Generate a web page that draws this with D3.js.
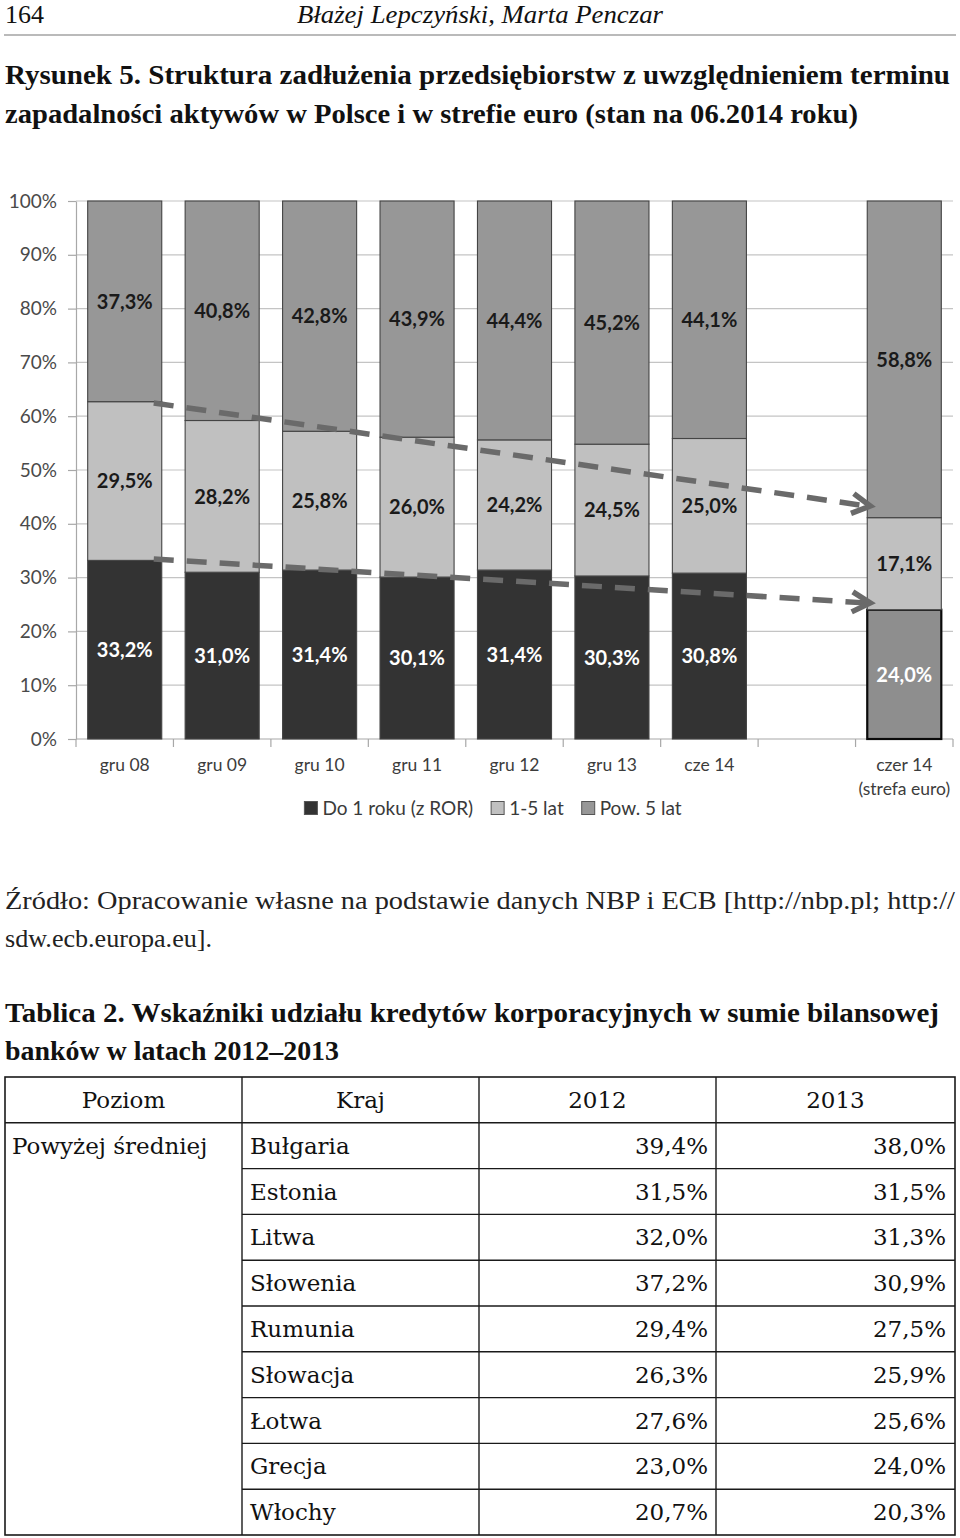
<!DOCTYPE html>
<html><head><meta charset="utf-8">
<script src="https://cdn.jsdelivr.net/npm/d3@7"></script>
<style>body{margin:0;background:#fff}svg{display:block}
.pserif{font-family:"Liberation Serif","Tinos","Times New Roman",serif}
.tserif{font-family:"DejaVu Serif",serif}
.sans{font-family:"Lato","Open Sans",sans-serif}
</style>
</head><body>
<svg id="page" width="960" height="1538"></svg>
<script>
// ---------- DATA ----------
const barCategories = ["gru 08","gru 09","gru 10","gru 11","gru 12","gru 13","cze 14","czer 14"];
const axisSlots = ["gru 08","gru 09","gru 10","gru 11","gru 12","gru 13","cze 14","_gap","czer 14"];
const categoryLabels = {"gru 08":["gru 08"],"gru 09":["gru 09"],"gru 10":["gru 10"],"gru 11":["gru 11"],"gru 12":["gru 12"],"gru 13":["gru 13"],"cze 14":["cze 14"],"czer 14":["czer 14","(strefa euro)"]};
const shortTerm = [33.2,31.0,31.4,30.1,31.4,30.3,30.8,24.0];   // Do 1 roku (z ROR)
const midTerm   = [29.5,28.2,25.8,26.0,24.2,24.5,25.0,17.1];   // 1-5 lat
const longTerm  = [37.3,40.8,42.8,43.9,44.4,45.2,44.1,58.8];   // Pow. 5 lat
const seriesNames = ["Do 1 roku (z ROR)","1-5 lat","Pow. 5 lat"];
const yTicks = [0,0.1,0.2,0.3,0.4,0.5,0.6,0.7,0.8,0.9,1.0];
const trendArrows = [
  {from:"gru 08", fromValue:0.6245, to:"czer 14", toValue:0.433},
  {from:"gru 08", fromValue:0.3346, to:"czer 14", toValue:0.2528}
];

const pageNumber = "164";
const runningHead = "Błażej Lepczyński, Marta Penczar";
const figureTitle = ["Rysunek 5. Struktura zadłużenia przedsiębiorstw z uwzględnieniem terminu",
                     "zapadalności aktywów w Polsce i w strefie euro (stan na 06.2014 roku)"];
const sourceNote = ["Źródło: Opracowanie własne na podstawie danych NBP i ECB [http://nbp.pl; http://",
                    "sdw.ecb.europa.eu]."];
const tableTitle = ["Tablica 2. Wskaźniki udziału kredytów korporacyjnych w sumie bilansowej",
                    "banków w latach 2012–2013"];

const tableColumns = ["Poziom","Kraj","2012","2013"];
const tableLevel = "Powyżej średniej";
const countries = ["Bułgaria","Estonia","Litwa","Słowenia","Rumunia","Słowacja","Łotwa","Grecja","Włochy"];
const share2012 = [39.4,31.5,32.0,37.2,29.4,26.3,27.6,23.0,20.7];
const share2013 = [38.0,31.5,31.3,30.9,27.5,25.9,25.6,24.0,20.3];

// ---------- PAGE ----------
const svg = d3.select("#page");
svg.append("rect").attr("width",960).attr("height",1538).attr("fill","#fff");
const comma = v => d3.format(".1f")(v).replace(".", ",");

function textLine(t, x, y, size, opts={}) {
  const el = svg.append("text").attr("x",x).attr("y",y)
    .attr("class","pserif").attr("font-size",size)
    .attr("fill",opts.fill||"#111").text(t);
  if (opts.weight) el.attr("font-weight",opts.weight);
  if (opts.style) el.attr("font-style",opts.style);
  if (opts.len) el.attr("textLength",opts.len).attr("lengthAdjust","spacingAndGlyphs");
  return el;
}

textLine(pageNumber, 5, 23, 25, {len:39});
textLine(runningHead, 297, 23, 25, {style:"italic", len:366});
svg.append("line").attr("x1",4).attr("x2",956).attr("y1",35).attr("y2",35)
  .attr("stroke","#777").attr("stroke-width",1.2);

textLine(figureTitle[0], 5, 84, 27, {weight:"bold", len:945});
textLine(figureTitle[1], 5, 123, 27, {weight:"bold", len:853});
textLine(sourceNote[0], 5, 909, 25, {len:950, fill:"#222"});
textLine(sourceNote[1], 5, 947, 25, {len:207, fill:"#222"});
textLine(tableTitle[0], 5, 1022, 27, {weight:"bold", len:934});
textLine(tableTitle[1], 5, 1060, 27, {weight:"bold", len:334});

// ---------- CHART ----------
const plotL = 76, plotR = 953, plotT = 201, plotB = 739;
const y = d3.scaleLinear().domain([0,1]).range([plotB, plotT]);
const x = d3.scaleBand().domain(axisSlots).range([plotL, plotR]).paddingInner(0.24).paddingOuter(0.12);
const step = x.step();
const chart = svg.append("g");

// gridlines
chart.append("g").selectAll("line").data(yTicks).join("line")
  .attr("x1",plotL).attr("x2",plotR).attr("y1",d=>y(d)).attr("y2",d=>y(d))
  .attr("stroke",d=>d===0?"#a8a8a8":"#c4c4c4").attr("stroke-width",1.2);

// y axis
const yAxis = chart.append("g").attr("transform",`translate(${plotL},0)`)
  .call(d3.axisLeft(y).tickValues(yTicks).tickFormat(d=>Math.round(d*100)+"%").tickSizeInner(8).tickSizeOuter(0).tickPadding(11));
yAxis.select(".domain").attr("stroke","#a8a8a8").attr("stroke-width",1.2);
yAxis.selectAll(".tick line").attr("stroke","#a8a8a8").attr("stroke-width",1.2);
yAxis.selectAll(".tick text").attr("font-family",null).attr("class","sans").attr("font-size",19).attr("fill","#4a4a4a");
yAxis.attr("font-family",null);

// x boundary ticks
const bounds = d3.range(axisSlots.length+1).map(i => plotL + i*step);
chart.append("g").selectAll("line").data(bounds).join("line")
  .attr("x1",d=>d).attr("x2",d=>d).attr("y1",plotB).attr("y2",plotB+8)
  .attr("stroke","#a8a8a8").attr("stroke-width",1.2);

// stacked bars
const rows = barCategories.map((c,i)=>({cat:c, s:shortTerm[i], m:midTerm[i], l:longTerm[i]}));
const keys = ["s","m","l"];
const stacked = d3.stack().keys(keys).offset(d3.stackOffsetExpand)(rows);
const fills = {s:"#333333", m:"#c0c0c0", l:"#979797"};
const euro = "czer 14";

const segs = [];
stacked.forEach(layer => layer.forEach(d => segs.push({key:layer.key, cat:d.data.cat, y0:d[0], y1:d[1], v:d.data[layer.key]})));

chart.append("g").selectAll("rect").data(segs).join("rect")
  .attr("x",d=>x(d.cat)).attr("width",x.bandwidth())
  .attr("y",d=>y(d.y1)).attr("height",d=>y(d.y0)-y(d.y1))
  .attr("fill",d=> (d.cat===euro && d.key==="s") ? "#8e8e8e" : fills[d.key])
  .attr("stroke",d=> (d.cat===euro && d.key==="s") ? "#0a0a0a" : "#444")
  .attr("stroke-width",d=> (d.cat===euro && d.key==="s") ? 2.2 : 1.1);

chart.append("g").selectAll("text").data(segs).join("text")
  .attr("x",d=>x(d.cat)+x.bandwidth()/2)
  .attr("y",d=>(y(d.y0)+y(d.y1))/2)
  .attr("dy","0.36em").attr("text-anchor","middle")
  .attr("class","sans").attr("font-weight","bold").attr("font-size",20)
  .attr("fill",d=> d.key==="s" ? "#fff" : "#1a1a1a")
  .text(d=>comma(d.v)+"%");

// category labels
const xl = chart.append("g");
axisSlots.filter(s=>categoryLabels[s]).forEach(s=>{
  categoryLabels[s].forEach((t,j)=>{
    xl.append("text").attr("x",x(s)+x.bandwidth()/2).attr("y",771+j*24)
      .attr("text-anchor","middle").attr("class","sans").attr("font-size",17.5)
      .attr("fill","#3c3c3c").text(t);
  });
});

// trend arrows
const arrowG = chart.append("g");
trendArrows.forEach(a=>{
  const x1 = x(a.from)+x.bandwidth()-8, y1 = y(a.fromValue);
  const x2 = x(a.to)+3, y2 = y(a.toValue);
  arrowG.append("line").attr("x1",x1).attr("y1",y1).attr("x2",x2-3).attr("y2",y2)
    .attr("stroke","#6a6a6a").attr("stroke-width",5.5).attr("stroke-dasharray","20,13");
  const dx=x2-x1, dy=y2-y1, L=Math.hypot(dx,dy), ux=dx/L, uy=dy/L, nx=-uy, ny=ux;
  const back=18, wing=10;
  const p = [[x2-back*ux+wing*nx, y2-back*uy+wing*ny],[x2,y2],[x2-back*ux-wing*nx, y2-back*uy-wing*ny]];
  arrowG.append("path").attr("d",d3.line()(p)).attr("fill","none")
    .attr("stroke","#6a6a6a").attr("stroke-width",5.5).attr("stroke-linejoin","miter");
});

// legend
const legend = chart.append("g");
const legendKeys = ["s","m","l"];
const items = legendKeys.map((k,i)=>{
  const g = legend.append("g");
  g.append("rect").attr("x",0).attr("y",-6.5).attr("width",13).attr("height",13)
    .attr("fill",fills[k]).attr("stroke","#555").attr("stroke-width",1);
  const t = g.append("text").attr("x",18).attr("y",0).attr("dy","0.36em")
    .attr("class","sans").attr("font-size",19).attr("fill","#3a3a3a").text(seriesNames[i]);
  const w = 18 + t.node().getComputedTextLength();
  return {g,w};
});
const gapL = 18;
const totalW = d3.sum(items,d=>d.w) + gapL*(items.length-1);
let lx = 493 - totalW/2;
items.forEach(it=>{ it.g.attr("transform",`translate(${lx},808)`); lx += it.w + gapL; });

// ---------- TABLE ----------
const colEdges = [5,242,479,716,955];
const tTop = 1077, rowH = 45.8, nRows = countries.length + 1;
const tBot = tTop + rowH*nRows;
const tg = svg.append("g");
const tstroke = "#1a1a1a";
tg.append("rect").attr("x",colEdges[0]).attr("y",tTop).attr("width",colEdges[4]-colEdges[0]).attr("height",tBot-tTop)
  .attr("fill","none").attr("stroke",tstroke).attr("stroke-width",1.6);
[1,2,3].forEach(i=>tg.append("line").attr("x1",colEdges[i]).attr("x2",colEdges[i]).attr("y1",tTop).attr("y2",tBot)
  .attr("stroke",tstroke).attr("stroke-width",1.4));
tg.append("line").attr("x1",colEdges[0]).attr("x2",colEdges[4]).attr("y1",tTop+rowH).attr("y2",tTop+rowH)
  .attr("stroke",tstroke).attr("stroke-width",1.4);
d3.range(2,nRows).forEach(r=>tg.append("line").attr("x1",colEdges[1]).attr("x2",colEdges[4])
  .attr("y1",tTop+r*rowH).attr("y2",tTop+r*rowH).attr("stroke",tstroke).attr("stroke-width",1.4));

const tf = 23;
const rowBase = r => tTop + r*rowH + rowH/2 + 8;
function cell(t, xx, r, anchor) {
  return tg.append("text").attr("x",xx).attr("y",rowBase(r)).attr("text-anchor",anchor||"start")
    .attr("class","tserif").attr("font-size",tf).attr("fill","#111").text(t);
}
tableColumns.forEach((c,i)=> cell(c, (colEdges[i]+colEdges[i+1])/2, 0, "middle"));
cell(tableLevel, 12, 1);
countries.forEach((c,i)=>{
  cell(c, colEdges[1]+8, i+1);
  cell(comma(share2012[i])+"%", colEdges[3]-8, i+1, "end");
  cell(comma(share2013[i])+"%", colEdges[4]-9, i+1, "end");
});
</script>
</body></html>
